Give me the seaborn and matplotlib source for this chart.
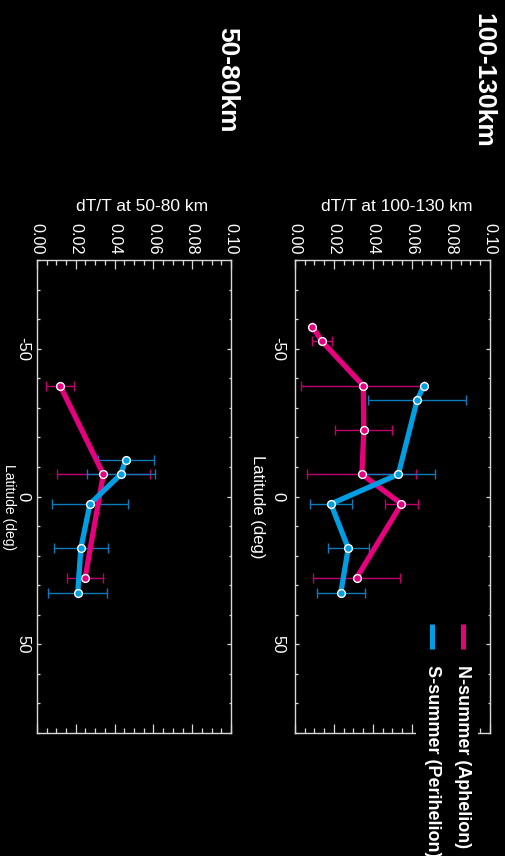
import numpy as np
import pandas as pd
import matplotlib
matplotlib.use("Agg")
import matplotlib.pyplot as plt
import seaborn as sns
from matplotlib.lines import Line2D
from matplotlib.patches import Rectangle
from matplotlib.ticker import MultipleLocator, FormatStrFormatter

# ---- temperature-perturbation amplitude dT/T versus latitude ----
# 100-130 km, northern summer (aphelion)
hi_n_lat = [-57.5, -52.5, -37.5, -22.5, -7.5, 2.5, 27.5]
hi_n_dtt = [0.0089, 0.0138, 0.0350, 0.0353, 0.0343, 0.0546, 0.0316]
hi_n_err = [0.0, 0.0050, 0.0320, 0.0147, 0.0280, 0.0084, 0.0225]
# 100-130 km, southern summer (perihelion)
hi_s_lat = [-37.5, -32.5, -7.5, 2.5, 17.5, 32.5]
hi_s_dtt = [0.0660, 0.0626, 0.0530, 0.0184, 0.0273, 0.0235]
hi_s_err = [0.0, 0.0253, 0.0189, 0.0107, 0.0104, 0.0123]
# 50-80 km, northern summer (aphelion)
lo_n_lat = [-37.5, -7.5, 27.5]
lo_n_dtt = [0.0119, 0.0342, 0.0248]
lo_n_err = [0.0073, 0.0241, 0.0093]
# 50-80 km, southern summer (perihelion)
lo_s_lat = [-12.5, -7.5, 2.5, 17.5, 32.5]
lo_s_dtt = [0.0458, 0.0432, 0.0273, 0.0226, 0.0210]
lo_s_err = [0.0143, 0.0174, 0.0197, 0.0140, 0.0153]

series_names = ["N-summer (Aphelion)", "S-summer (Perihelion)"]
panel_titles = ["50-80km", "100-130km"]
value_labels = ["dT/T at 50-80 km", "dT/T at 100-130 km"]
lat_label = "Latitude (deg)"

PINK = "#e6007e"
BLUE = "#009fe3"
PINK_ERR = "#c0006e"
BLUE_ERR = "#0a7cbc"
AXC = "#d8d8d8"

sns.set_style("ticks")
plt.rcParams["font.family"] = ["Liberation Sans", "DejaVu Sans"]
plt.rcParams["axes.unicode_minus"] = False

W, H = 506, 856
fig = plt.figure(figsize=(W / 100, H / 100), dpi=100, facecolor="black")


def fx(px):
    return px / W


def fy(py):
    return 1 - py / H


def frame(ax, left_px, right_px, top_px, bottom_px, lat_pad):
    ax.set_position([fx(left_px), fy(bottom_px),
                     (right_px - left_px) / W, (bottom_px - top_px) / H])
    ax.set_facecolor("black")
    ax.set_xlim(0, 0.10)
    ax.set_ylim(80, -80)
    ax.xaxis.tick_top()
    ax.xaxis.set_label_position("top")
    ax.xaxis.set_major_locator(MultipleLocator(0.02))
    ax.xaxis.set_minor_locator(MultipleLocator(0.005))
    ax.xaxis.set_major_formatter(FormatStrFormatter("%.2f"))
    ax.yaxis.set_major_locator(MultipleLocator(50))
    ax.yaxis.set_minor_locator(MultipleLocator(10))
    ax.tick_params(axis="x", which="both", direction="in", top=True, bottom=True,
                   labeltop=True, labelbottom=False, color=AXC, width=0.9,
                   labelcolor="white", labelsize=11.7, labelrotation=-90, pad=4)
    ax.tick_params(axis="x", which="major", length=6.3)
    ax.tick_params(axis="x", which="minor", length=3.3)
    ax.tick_params(axis="y", which="both", direction="in", left=True, right=True,
                   labelleft=True, labelright=False, color=AXC, width=0.9,
                   labelcolor="white", labelsize=12, labelrotation=-90,
                   pad=lat_pad)
    ax.tick_params(axis="y", which="major", length=3.0)
    ax.tick_params(axis="y", which="minor", length=1.8)
    for lbl in ax.get_yticklabels():
        lbl.set_va("center")
    for sp in ax.spines.values():
        sp.set_visible(True)
        sp.set_color(AXC)
        sp.set_linewidth(1.0)


def draw(ax, groups):
    for lat, dtt, err, ecol in groups:
        ax.errorbar(dtt, lat, xerr=err, fmt="none", ecolor=ecol,
                    elinewidth=1.0, capsize=3.4, capthick=1.0, zorder=2)
    for lat, dtt, col in [(g[0], g[1], c) for g, c in
                          zip(groups, [PINK, BLUE])]:
        df = pd.DataFrame({"lat": lat, "dtt": dtt})
        sns.lineplot(data=df, x="dtt", y="lat", orient="y", sort=True,
                     errorbar=None, color=col, lw=3.8, marker="o",
                     markersize=5.6, markerfacecolor=col,
                     markeredgecolor="white", markeredgewidth=1.0,
                     ax=ax, legend=False, zorder=3)


ax_lo = fig.add_subplot(1, 2, 1)
ax_hi = fig.add_subplot(1, 2, 2)

draw(ax_lo, [(lo_n_lat, lo_n_dtt, lo_n_err, PINK_ERR),
             (lo_s_lat, lo_s_dtt, lo_s_err, BLUE_ERR)])
draw(ax_hi, [(hi_n_lat, hi_n_dtt, hi_n_err, PINK_ERR),
             (hi_s_lat, hi_s_dtt, hi_s_err, BLUE_ERR)])

frame(ax_lo, 37, 231, 260, 733, lat_pad=5)
frame(ax_hi, 295, 490, 260, 733, lat_pad=7)

# axis labels
for ax, lab, xc, yl, fs in [(ax_lo, value_labels[0], 0.541, -0.109, 10),
                            (ax_hi, value_labels[1], 0.5205, -0.154, 12)]:
    ax.set_xlabel(lab, fontsize=12.5, color="white")
    ax.xaxis.set_label_coords(xc, 1.104)
    ax.set_ylabel(lat_label, fontsize=fs, color="white", rotation=-90, va="top")
    ax.yaxis.set_label_coords(yl, 0.478)

# panel titles
fig.text(fx(227), fy(80), panel_titles[0], rotation=-90, ha="center",
         va="center", fontsize=19, fontweight="bold", color="white")
fig.text(fx(483.5), fy(80), panel_titles[1], rotation=-90, ha="center",
         va="center", fontsize=19, fontweight="bold", color="white")

# legend box on the 100-130 km panel
fig.add_artist(Rectangle((fx(416), 0), (478 - 416) / W, (H - 610) / H,
                         transform=fig.transFigure, facecolor="black",
                         edgecolor="none", zorder=5))
for xc, col, name in [(462.5, PINK, series_names[0]),
                      (432.5, BLUE, series_names[1])]:
    fig.add_artist(Line2D([fx(xc), fx(xc)], [fy(624), fy(649)],
                          transform=fig.transFigure, color=col, lw=3.6,
                          solid_capstyle="butt", zorder=6))
    fig.text(fx(xc), fy(665), name, rotation=-90, ha="center", va="top",
             fontsize=13, fontweight="bold", color="white", zorder=6)

fig.savefig("out.png", dpi=100, facecolor="black")
